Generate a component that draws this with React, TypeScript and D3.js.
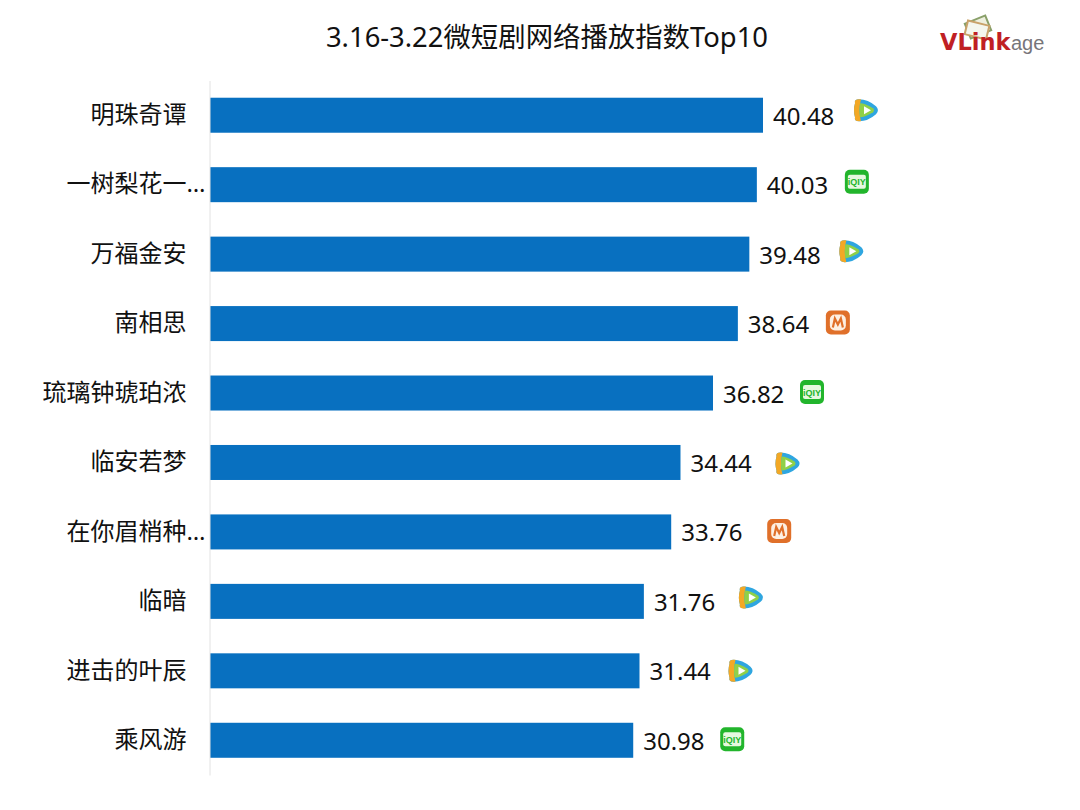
import React from 'react';
import * as d3 from 'd3';

const titleText = '3.16-3.22微短剧网络播放指数Top10';
const dramas = ['明珠奇谭', '一树梨花一…', '万福金安', '南相思', '琉璃钟琥珀浓', '临安若梦', '在你眉梢种…', '临暗', '进击的叶辰', '乘风游'];
const indexValues = [40.48, 40.03, 39.48, 38.64, 36.82, 34.44, 33.76, 31.76, 31.44, 30.98];
const platforms = ['tencent', 'iqiyi', 'tencent', 'mango', 'iqiyi', 'tencent', 'mango', 'tencent', 'tencent', 'iqiyi'];

// hand placed in the original, so the icons don't line up with the bars exactly
const iconDx = [103, 100, 102, 100, 99, 107, 108, 107, 101, 99];
const iconDy = [-5, -3, -3, -1, -1, 1, -1, -4, 0, -1];

const FONT = '"Noto Sans", "Noto Sans CJK SC", sans-serif';

export default function App() {
  const ref = React.useRef<SVGSVGElement>(null);

  React.useEffect(() => {
    const svg = d3.select(ref.current);
    svg.selectAll('*').remove();

    const x = d3.scaleLinear().domain([0, 40.48]).range([210, 763]);
    const y = d3.scaleBand().domain(dramas).range([80.5, 775]).paddingInner(0.496).paddingOuter(0.248);

    svg.append('text')
      .attr('x', 547)
      .attr('y', 47)
      .attr('text-anchor', 'middle')
      .attr('font-size', 27.4)
      .attr('fill', '#111')
      .text(titleText);

    // bars
    svg.append('g')
      .selectAll('rect')
      .data(dramas)
      .enter()
      .append('rect')
      .attr('x', x(0))
      .attr('y', d => y(d) || 0)
      .attr('width', (d, i) => x(indexValues[i]) - x(0))
      .attr('height', y.bandwidth())
      .attr('fill', '#0870c0');

    // category axis
    const axis = svg.append('g')
      .attr('transform', 'translate(209.5,0)')
      .call(d3.axisLeft(y).tickSize(0).tickPadding(23));
    axis.select('.domain').attr('stroke', '#e2e2e2').attr('stroke-width', 1);
    axis.selectAll('text')
      .attr('font-family', FONT)
      .attr('font-size', 24)
      .attr('fill', '#111')
      .attr('x', (d: any) => (d.endsWith('…') ? -4 : -23));

    // value labels
    svg.append('g')
      .selectAll('text')
      .data(dramas)
      .enter()
      .append('text')
      .attr('x', (d, i) => x(indexValues[i]) + 10)
      .attr('y', d => (y(d) || 0) + y.bandwidth() / 2 + 9.5)
      .attr('font-size', 24)
      .attr('fill', '#111')
      .text((d, i) => indexValues[i].toFixed(2));

    // platform icons
    const icons = svg.append('g')
      .selectAll('g')
      .data(dramas)
      .enter()
      .append('g')
      .attr('transform', (d, i) => {
        const cx = x(indexValues[i]) + iconDx[i];
        const cy = (y(d) || 0) + y.bandwidth() / 2 + iconDy[i];
        return `translate(${cx},${cy})`;
      });

    icons.each(function (d, i) {
      const g = d3.select(this);
      if (platforms[i] === 'tencent') {
        g.append('path')
          .attr('d', 'M-11,-7 Q-12,-11 -7,-11 Q2,-11 10,-4 Q14,0 10,4 Q2,11 -7,11 Q-12,11 -11,7 Q-13,0 -11,-7 Z')
          .attr('fill', '#2fa6e0');
        g.append('path')
          .attr('d', 'M-11,-7 Q-12,-11 -7,-11 L-5,-11 Q-8,0 -5,11 L-7,11 Q-12,11 -11,7 Q-13,0 -11,-7 Z')
          .attr('fill', '#f3a825');
        g.append('path')
          .attr('d', 'M-6,-7 Q-1,-7 7,-2 Q9,0 7,2 Q-1,7 -6,7 Q-7,0 -6,-7 Z')
          .attr('fill', '#8fd048');
        g.append('path').attr('d', 'M-2,-4 L5,0 L-2,4 Z').attr('fill', '#ffffff');
      } else if (platforms[i] === 'iqiyi') {
        g.append('rect')
          .attr('x', -12).attr('y', -12).attr('width', 24).attr('height', 24).attr('rx', 5)
          .attr('fill', '#22b52c');
        g.append('rect')
          .attr('x', -9).attr('y', -7).attr('width', 18).attr('height', 14).attr('rx', 2)
          .attr('fill', '#e6f8df');
        g.append('text')
          .attr('text-anchor', 'middle')
          .attr('y', 3.5)
          .attr('font-family', '"Liberation Sans", sans-serif')
          .attr('font-size', 9)
          .attr('font-weight', 700)
          .attr('fill', '#22b52c')
          .text('iQIY');
      } else {
        g.append('rect')
          .attr('x', -12).attr('y', -12).attr('width', 24).attr('height', 24).attr('rx', 5)
          .attr('fill', '#e0702a');
        g.append('rect')
          .attr('x', -8).attr('y', -8).attr('width', 16).attr('height', 16).attr('rx', 5)
          .attr('fill', '#fdf0e3');
        g.append('path')
          .attr('d', 'M-5,5 L-3,-4 L0,2 L3,-4 L5,5')
          .attr('fill', 'none')
          .attr('stroke', '#e0702a')
          .attr('stroke-width', 2.2);
      }
    });

    // logo
    const logo = svg.append('g').attr('transform', 'translate(940,50)');
    logo.append('rect')
      .attr('x', 27).attr('y', -31).attr('width', 22).attr('height', 16)
      .attr('transform', 'rotate(-22 38 -23)')
      .attr('fill', '#eef0df').attr('stroke', '#8aa06a').attr('stroke-width', 2);
    logo.append('rect')
      .attr('x', 26).attr('y', -27).attr('width', 22).attr('height', 14)
      .attr('transform', 'rotate(14 37 -20)')
      .attr('fill', '#f4f6ee').attr('stroke', '#c9a26a').attr('stroke-width', 2);
    logo.append('text')
      .attr('x', 0).attr('y', 0)
      .attr('font-family', '"DejaVu Sans", sans-serif')
      .attr('font-size', 22.5)
      .attr('font-weight', 700)
      .attr('fill', '#c01f24')
      .text('VLink');
    logo.append('text')
      .attr('x', 71).attr('y', 0)
      .attr('font-family', '"Liberation Sans", sans-serif')
      .attr('font-size', 20)
      .attr('fill', '#77757a')
      .text('age');
  }, []);

  return (
    <svg
      ref={ref}
      width={1080}
      height={810}
      fontFamily={FONT}
      style={{ position: 'absolute', left: 0, top: 0, background: '#fff' }}
    />
  );
}
